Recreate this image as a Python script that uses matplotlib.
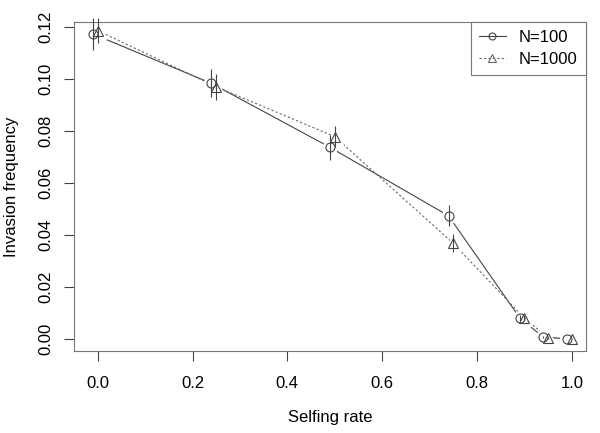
import matplotlib
matplotlib.use('Agg')
import matplotlib.pyplot as plt

plt.rcParams['font.family'] = ['Liberation Sans', 'DejaVu Sans']

# selfing rate (N=100 points are shifted left a little)
sr100 = [-0.01, 0.24, 0.49, 0.74, 0.89, 0.94, 0.99]
inv100 = [0.1173, 0.0983, 0.0737, 0.0474, 0.0082, 0.0007, 0.0001]
err100 = [0.0062, 0.0054, 0.0048, 0.0040, 0.0012, 0.0004, 0.0001]

sr1000 = [0.0, 0.25, 0.50, 0.75, 0.90, 0.95, 1.0]
inv1000 = [0.1186, 0.0970, 0.0778, 0.0368, 0.0080, 0.0005, 0.0001]
err1000 = [0.0047, 0.0050, 0.0040, 0.0035, 0.0010, 0.0003, 0.0001]

xticks = [0.0, 0.2, 0.4, 0.6, 0.8, 1.0]
yticks = [0.00, 0.02, 0.04, 0.06, 0.08, 0.10, 0.12]

col = '#444444'

fig = plt.figure(figsize=(6, 4.33), dpi=100)
ax = fig.add_axes([0.1233, 0.1894, 0.8534, 0.7598])

# lines
ax.plot(sr100, inv100, '-', color=col, lw=0.8, zorder=1)
ax.plot(sr1000, inv1000, color='#666666', lw=0.8, ls=(0, (2, 2)), zorder=1)

# white halo so the lines stop short of the points (like R type="b")
ax.plot(sr100, inv100, 'o', ms=10, mfc='white', mec='white', zorder=2)
ax.plot(sr1000, inv1000, '^', ms=11, mfc='white', mec='white', zorder=2)

ax.plot(sr100, inv100, 'o', ms=6.5, mfc='none', mec=col, mew=0.8, zorder=3)
ax.plot(sr1000, inv1000, '^', ms=7.5, mfc='none', mec=col, mew=0.8, zorder=3)

# error bars
ax.vlines(sr100, [a - b for a, b in zip(inv100, err100)],
          [a + b for a, b in zip(inv100, err100)], color=col, lw=0.8,
          zorder=4, clip_on=False)
ax.vlines(sr1000, [a - b for a, b in zip(inv1000, err1000)],
          [a + b for a, b in zip(inv1000, err1000)], color=col, lw=0.8,
          zorder=4, clip_on=False)

ax.set_xlim(-0.05, 1.03)
ax.set_ylim(-0.0046, 0.1219)
ax.set_xticks(xticks)
ax.set_xticklabels(['%.1f' % t for t in xticks])
ax.set_yticks(yticks)
ax.set_yticklabels(['%.2f' % t for t in yticks], rotation=90, va='center')
ax.tick_params(direction='out', length=7, width=0.8, color=col,
               labelsize=12)
ax.tick_params(axis='x', pad=11)
ax.tick_params(axis='y', pad=8)
for s in ax.spines.values():
    s.set_color('#777777')
    s.set_linewidth(0.8)

ax.set_xlabel('Selfing rate', fontsize=12, labelpad=14)
ax.set_ylabel('Invasion frequency', fontsize=12, labelpad=14)

h1, = ax.plot([], [], '-o', color=col, lw=0.8, ms=5, mfc='none', mew=0.8)
h2, = ax.plot([], [], '^', color='#666666', lw=0.8, ls=(0, (2, 2)), ms=6,
              mfc='none', mew=0.8)
leg = ax.legend([h1, h2], ['N=100', 'N=1000'], loc='upper right',
                borderaxespad=0, fancybox=False, fontsize=12,
                handlelength=1.6, labelspacing=0.4, borderpad=0.5,
                handletextpad=0.8, framealpha=1)
leg.get_frame().set_edgecolor('#777777')
leg.get_frame().set_linewidth(0.8)

plt.savefig('out.png', dpi=100)
